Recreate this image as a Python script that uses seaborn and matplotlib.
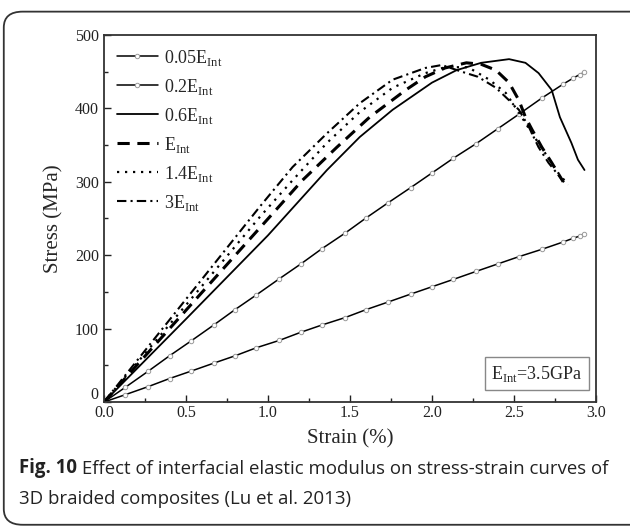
import numpy as np
import pandas as pd
import matplotlib.pyplot as plt
import seaborn as sns
from matplotlib.patches import FancyBboxPatch
from matplotlib.ticker import MultipleLocator, FuncFormatter

# values (strain in %, stress in MPa)
strain_lin = [0.0, 0.13, 0.27, 0.40, 0.53, 0.67, 0.80, 0.93, 1.07, 1.20, 1.33, 1.47,
              1.60, 1.73, 1.87, 2.00, 2.13, 2.27, 2.40, 2.53, 2.67, 2.80, 2.86, 2.90, 2.93]
stress_005 = [0, 10, 21, 32, 42, 53, 63, 74, 84, 95, 105, 115,
              126, 136, 147, 157, 167, 178, 188, 198, 208, 218, 223, 226, 229]
stress_02 = [0, 20, 42, 63, 83, 105, 126, 146, 168, 188, 209, 230,
             251, 271, 292, 312, 332, 352, 372, 392, 414, 433, 441, 446, 449]

strain_06 = [0.0, 0.5, 1.0, 1.36, 1.56, 1.76, 2.0, 2.15, 2.3, 2.47, 2.57, 2.65,
             2.73, 2.78, 2.85, 2.89, 2.93]
stress_06 = [0, 113, 227, 316, 361, 398, 435, 452, 462, 467, 462, 448,
             425, 388, 353, 330, 316]

strain_1 = [0.0, 0.5, 1.03, 1.21, 1.42, 1.62, 1.84, 1.96, 2.08, 2.21, 2.30, 2.39,
            2.47, 2.53, 2.57, 2.61, 2.67, 2.73, 2.80]
stress_1 = [0, 125, 257, 302, 347, 388, 425, 443, 455, 462, 460, 452,
            435, 411, 388, 371, 347, 326, 300]

strain_14 = [0.0, 0.5, 0.95, 1.15, 1.36, 1.56, 1.76, 1.96, 2.08, 2.22, 2.35, 2.45,
             2.53, 2.61, 2.69, 2.77, 2.83]
stress_14 = [0, 132, 252, 302, 353, 395, 428, 448, 456, 456, 439, 421,
             394, 366, 339, 312, 296]

strain_3 = [0.0, 0.5, 0.95, 1.15, 1.36, 1.56, 1.76, 1.96, 2.06, 2.18, 2.28, 2.39,
            2.47, 2.53, 2.59, 2.65, 2.71, 2.81]
stress_3 = [0, 140, 266, 320, 366, 407, 439, 455, 459, 450, 443, 428,
            411, 398, 375, 347, 326, 298]

labels = ['0.05E$_{\\rm Int}$', '0.2E$_{\\rm Int}$', '0.6E$_{\\rm Int}$',
          'E$_{\\rm Int}$', '1.4E$_{\\rm Int}$', '3E$_{\\rm Int}$']

sns.set_style('ticks')
plt.rcParams['font.family'] = ['Liberation Serif', 'DejaVu Serif']
plt.rcParams['mathtext.fontset'] = 'custom'
plt.rcParams['mathtext.rm'] = 'Liberation Serif'

fig = plt.figure(figsize=(6.3, 5.29), dpi=100)
ax = fig.add_axes([0.165, 0.240, 0.781, 0.694])

mk = dict(marker='o', markersize=3.2, markerfacecolor='white',
          markeredgecolor='#999999', markeredgewidth=0.7)
sns.lineplot(x=strain_lin, y=stress_005, ax=ax, color='black', lw=1.1, label=labels[0], **mk)
sns.lineplot(x=strain_lin, y=stress_02, ax=ax, color='black', lw=1.1, label=labels[1], **mk)
sns.lineplot(x=strain_06, y=stress_06, ax=ax, color='black', lw=1.3, label=labels[2])
sns.lineplot(x=strain_1, y=stress_1, ax=ax, color='black', lw=2.2,
             linestyle=(0, (4, 2.5)), label=labels[3])
sns.lineplot(x=strain_14, y=stress_14, ax=ax, color='black', lw=1.6,
             linestyle=(0, (1, 2.6)), label=labels[4])
sns.lineplot(x=strain_3, y=stress_3, ax=ax, color='black', lw=1.5,
             linestyle=(0, (4.5, 2, 1, 2)), label=labels[5])

ax.set_xlim(0, 3.0)
ax.set_ylim(0, 500)
ax.xaxis.set_major_locator(MultipleLocator(0.5))
ax.xaxis.set_minor_locator(MultipleLocator(0.25))
ax.yaxis.set_major_locator(MultipleLocator(100))
ax.yaxis.set_minor_locator(MultipleLocator(50))
# the "0" on the y axis sits a bit higher in the original, drawn separately below
ax.yaxis.set_major_formatter(FuncFormatter(lambda v, p: '' if v == 0 else f'{v:.0f}'))
ax.tick_params(which='both', direction='in', labelsize=11.5, colors='#222222')
ax.tick_params(which='major', length=5, width=1)
ax.tick_params(which='minor', length=3, width=1)
ax.tick_params(axis='x', pad=2)
for s in ax.spines.values():
    s.set_linewidth(1.3)
    s.set_color('#333333')
ax.text(-0.011, 0.018, '0', transform=ax.transAxes, ha='right', va='center',
        fontsize=11.5, color='#222222')
ax.set_xlabel('Strain (%)', fontsize=15, labelpad=6)
ax.set_ylabel('Stress (MPa)', fontsize=15, labelpad=8)

leg = ax.legend(loc='upper left', frameon=False, fontsize=13, handlelength=2.3,
                handletextpad=0.3, labelspacing=0.5, borderaxespad=0.3,
                bbox_to_anchor=(0.0, 1.0))

ax.text(0.972, 0.05, 'E$_{\\rm Int}$=3.5GPa', transform=ax.transAxes, ha='right',
        va='bottom', fontsize=13,
        bbox=dict(boxstyle='square,pad=0.35', fc='white', ec='#888888', lw=1))

# rounded frame and caption
frame = FancyBboxPatch((0.006, 0.008), 1.05, 0.97, transform=fig.transFigure,
                       boxstyle='round,pad=0,rounding_size=0.03', fc='none',
                       ec='#333333', lw=1.3, clip_on=False)
fig.patches.append(frame)

cap_font = ['Open Sans', 'DejaVu Sans']
t1 = fig.text(0.03, 0.105, 'Fig. 10', fontsize=13.4, fontweight='bold',
              family=cap_font, color='#222222', va='baseline')
ax.annotate(' Effect of interfacial elastic modulus on stress-strain curves of',
            xy=(1, 0), xycoords=t1, va='bottom', ha='left', fontsize=13.4,
            family=cap_font, color='#222222', annotation_clip=False)
fig.text(0.03, 0.048, '3D braided composites (Lu et al. 2013)', fontsize=13.4,
         family=cap_font, color='#222222', va='baseline')

fig.savefig('out.png', dpi=100)
